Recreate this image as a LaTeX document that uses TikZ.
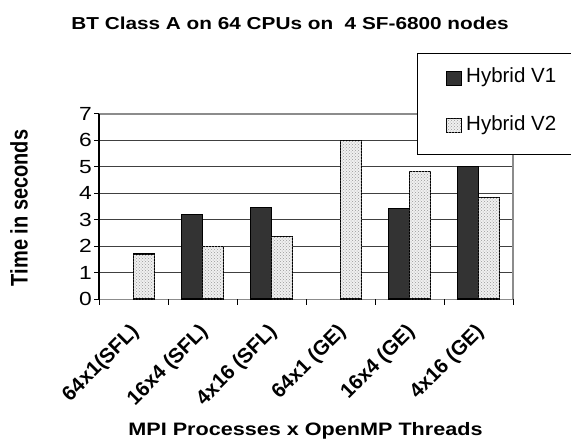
\documentclass[tikz,border=0pt]{standalone}
\usepackage{fontspec}
\setmainfont{Liberation Sans}
\usetikzlibrary{patterns}
\definecolor{barone}{HTML}{333333}
\definecolor{gridc}{HTML}{404040}
\definecolor{framec}{HTML}{8C8C8C}
\tikzset{
  barv1/.style={draw=black, line width=1.2pt, fill=barone},
  barv2/.style={draw=black, line width=1.2pt, fill=black!6,
    postaction={pattern=crosshatch dots, pattern color=black!40}},
  gridline/.style={draw=gridc, line width=0.8pt},
  ticklab/.style={anchor=east, xscale=1.2, font=\fontsize{19}{19}\selectfont, inner sep=0pt},
  catlab/.style={anchor=north east, rotate=45, inner sep=0pt,
    font=\fontsize{20.5}{20.5}\selectfont\bfseries},
  legtext/.style={anchor=west, font=\fontsize{20.5}{20.5}\selectfont, inner sep=0pt},
}
% value -> vertical position
\newcommand{\valy}[1]{299-26.43*#1}
\begin{document}
\begin{tikzpicture}[x=1pt,y=-1pt]
\useasboundingbox (0,0) rectangle (571,440);
\fill[white] (0,0) rectangle (571,440);

% horizontal grid and frame of the plot area
\foreach \g in {1,...,6} \draw[gridline] (99,{\valy{\g}}) -- (513,{\valy{\g}});
\draw[framec, line width=1.6pt] (99,{\valy{7}}) -- (513,{\valy{7}}) -- (513,299);
\draw[framec, line width=1pt] (99,299) -- (513,299);
\draw[black, line width=1.4pt] (99,{\valy{7}}) -- (99,299);

% ticks
\foreach \g in {0,...,7} {
  \draw[black, line width=1pt] (94,{\valy{\g}}) -- (99,{\valy{\g}});
  \node[ticklab] (t\g) at (92,{\valy{\g}}) {\g};
}
\foreach \k in {0,...,6} \draw[black, line width=1pt] ({99+69*\k},299) -- ({99+69*\k},305);

% bars: Hybrid V1
\foreach \k/\v in {1/3.2, 2/3.46, 4/3.42, 5/5.02}
  \draw[barv1] ({99+69*\k+13.5},299) rectangle ({99+69*\k+34.5},{\valy{\v}});
% bars: Hybrid V2
\foreach \k/\v in {0/1.7, 1/1.99, 2/2.35, 3/6.0, 4/4.82, 5/3.84}
  \draw[barv2] ({99+69*\k+34.5},299) rectangle ({99+69*\k+55.5},{\valy{\v}});

% category labels
\node[catlab] (c0) at (129,322) {64x1(SFL)};
\node[catlab] (c1) at (198,322) {16x4 (SFL)};
\node[catlab] (c2) at (267,322) {4x16 (SFL)};
\node[catlab] (c3) at (336,322) {64x1 (GE)};
\node[catlab] (c4) at (405,322) {16x4 (GE)};
\node[catlab] (c5) at (474,322) {4x16 (GE)};

% titles
\node[font=\fontsize{17.3}{17.3}\selectfont\bfseries, xscale=1.2, anchor=base] (title) at (290,29)
  {BT Class A on 64 CPUs on\ \ 4 SF-6800 nodes};
\node[font=\fontsize{18}{18}\selectfont\bfseries, xscale=1.2, anchor=base] (xtitle) at (305.5,435.5)
  {MPI Processes x OpenMP Threads};
\node[font=\fontsize{20}{20}\selectfont\bfseries, rotate=90, yscale=1.2] (ytitle) at (19,208)
  {Time in seconds};

% legend
\fill[white] (417,53) rectangle (571,154);
\draw[black, line width=1pt] (571,53) -- (417,53) -- (417,154) -- (571,154);
\draw[barv1, line width=1pt] (446,71) rectangle (461,85);
\node[legtext] (l1) at (466,77) {Hybrid V1};
\draw[barv2, line width=1pt] (446,118) rectangle (461,132);
\node[legtext] (l2) at (466,125) {Hybrid V2};
\end{tikzpicture}
\end{document}
